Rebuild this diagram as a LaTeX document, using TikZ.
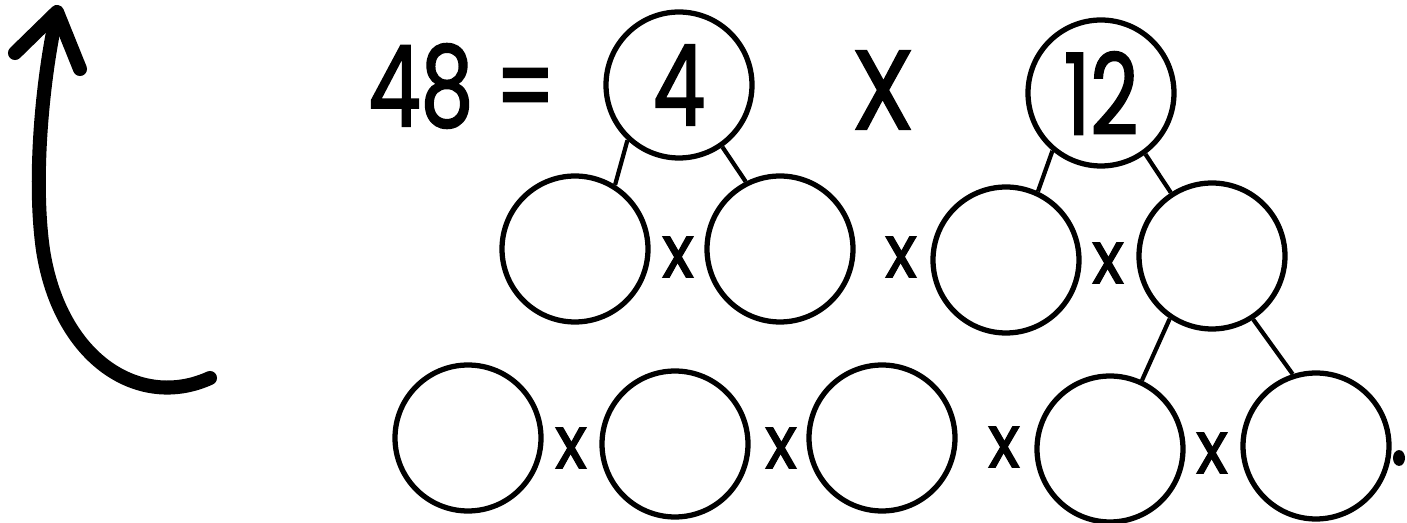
\documentclass[tikz,border=0pt]{standalone}
\usepackage{fontspec}
\newfontfamily\kidfont{Poppins}[FakeStretch=0.74,FakeBold=1.6]
\newfontfamily\kidfontx{Poppins}[FakeStretch=0.9,FakeBold=1.6]

\begin{document}
\begin{tikzpicture}[x=0.02cm,y=-0.02cm,>=stealth,
  ring/.style={circle,draw,line width=3pt,minimum size=2.92cm,inner sep=0pt,font=\kidfont\fontsize{64}{64}\selectfont},
  big/.style={font=\kidfont\fontsize{64}{64}\selectfont,inner sep=0pt},
  times/.style={font=\kidfontx\fontsize{42}{42}\selectfont,inner sep=0pt},
  branch/.style={line width=2.4pt}]
  \useasboundingbox (0,0) rectangle (1407,523);
  % top row
  \node[big] (eq) at (462,86) {48 =};
  \node[ring] (four) at (679,85) {4};
  \node[big,font=\kidfontx\fontsize{64}{64}\selectfont] (mult) at (883,90) {X};
  \node[ring] (twelve) at (1101,93) {12};
  % middle row
  \foreach \n/\x/\y in {m1/575/249,m2/780/249,m3/1006/260,m4/1212/256}
    \node[ring] (\n) at (\x,\y) {};
  \foreach \n/\x/\y in {mx1/678/257,mx2/901/257,mx3/1108/263}
    \node[times] (\n) at (\x,\y) {x};
  % bottom row
  \foreach \n/\x/\y in {b1/468/438,b2/675/444,b3/882/438,b4/1110/449,b5/1316/446}
    \node[ring] (\n) at (\x,\y) {};
  \foreach \n/\x/\y in {bx1/571/448,bx2/781/448,bx3/1004/447,bx4/1212/453}
    \node[times] (\n) at (\x,\y) {x};
  \node[big] (stop) at (1399,458) {.};
  % branches
  \draw[branch] (four.-133) -- (m1.58);
  \draw[branch] (four.-55) -- (m2.117);
  \draw[branch] (twelve.-130) -- (m3.65);
  \draw[branch] (twelve.-54) -- (m4.123);
  \draw[branch] (m4.-124) -- (b4.65);
  \draw[branch] (m4.-57) -- (b5.108);
  % arrow
  \draw[line width=8pt,line cap=round] (210,378) .. controls (140,410) and (60,360) .. (43,250)
    .. controls (33,180) and (42,80) .. (57,13);
  \draw[line width=8pt,line cap=round,line join=round] (15,53) -- (57,12) -- (80,69);
\end{tikzpicture}
\end{document}
